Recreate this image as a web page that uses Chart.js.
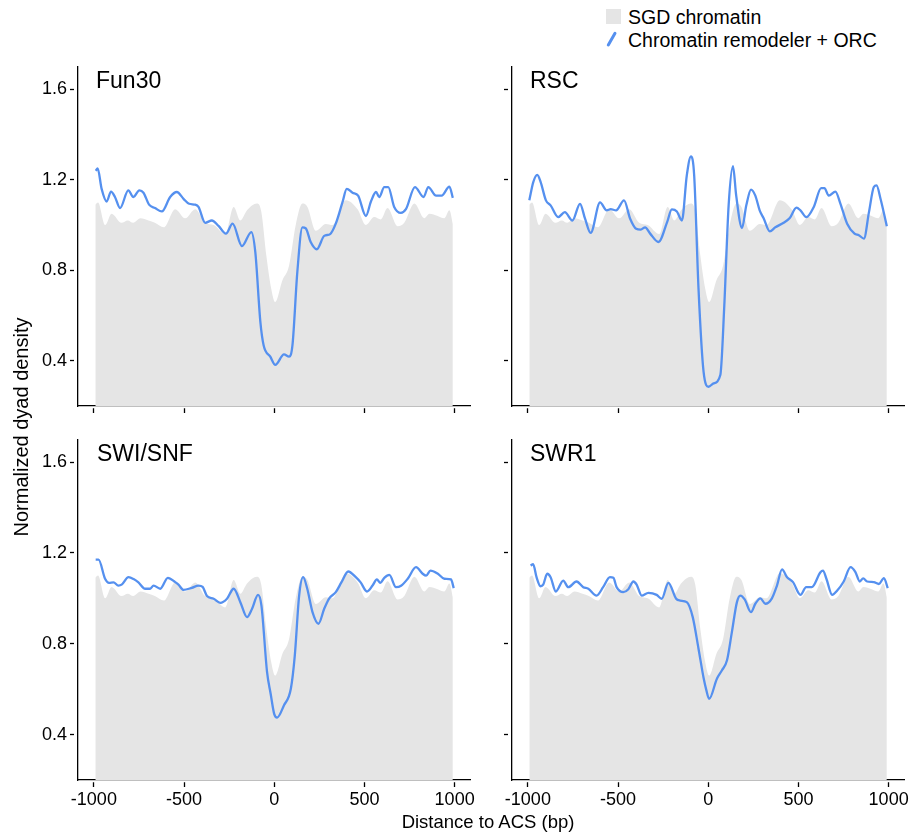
<!DOCTYPE html>
<html>
<head>
<meta charset="utf-8">
<script src="https://cdn.jsdelivr.net/npm/chart.js@4.4.1/dist/chart.umd.min.js"></script>
<style>
  body { margin: 0; width: 910px; height: 837px; background: #fff; position: relative; overflow: hidden;
         font-family: "Liberation Sans", Arial, sans-serif; color: #000; }
  .box { position: absolute; }
  .name { position: absolute; font-size: 23px; line-height: 23px; white-space: nowrap; }
  #legend { position: absolute; left: 628px; top: 6px; font-size: 19.5px; line-height: 22.7px; white-space: nowrap; }
  #sgdKey { position: absolute; left: 606px; top: 9px; width: 15px; height: 15px; background: #e5e5e5; }
  #lineKey { position: absolute; left: 600px; top: 28px; }
  #ytitle { position: absolute; left: -129.5px; top: 417px; width: 300px; height: 20px; text-align: center;
            font-size: 20px; line-height: 20px; transform: rotate(-90deg); white-space: nowrap; }
  #xtitle { position: absolute; left: 288px; top: 813px; width: 400px; text-align: center;
            font-size: 18.5px; line-height: 18.5px; white-space: nowrap; }
</style>
</head>
<body>

<div id="sgdKey"></div>
<svg id="lineKey" width="24" height="24"><line x1="8.3" y1="17" x2="15" y2="5.3" stroke="#5590ef" stroke-width="3" stroke-linecap="round"/></svg>
<div id="legend">SGD chromatin<br>Chromatin remodeler + ORC</div>

<div class="box" style="left:0;top:58px"><canvas id="c0" width="480" height="362"></canvas></div>
<div class="box" style="left:480px;top:58px"><canvas id="c1" width="430" height="362"></canvas></div>
<div class="box" style="left:0;top:430px"><canvas id="c2" width="480" height="407"></canvas></div>
<div class="box" style="left:480px;top:430px"><canvas id="c3" width="430" height="407"></canvas></div>

<div class="name" style="left:96px;top:68.7px">Fun30</div>
<div class="name" style="left:530px;top:68.7px">RSC</div>
<div class="name" style="left:97px;top:442px">SWI/SNF</div>
<div class="name" style="left:530px;top:442px">SWR1</div>

<div id="ytitle">Normalized dyad density</div>
<div id="xtitle">Distance to ACS (bp)</div>

<script>
// tick values
const xTicks = [-1000, -500, 0, 500, 1000];
const yTicks = [0.4, 0.8, 1.2, 1.6];

// SGD chromatin (same grey profile in every panel)
const sgdX = [-992, -977, -937, -902, -847, -812, -782, -742, -697, -662, -612, -549, -494, -438, -383, -336,
  -272, -225, -188, -151, -96, -72, -43, -17, 5, 45, 82, 119, 156, 184, 230, 286, 323, 397, 462, 508, 554,
  591, 628, 684, 721, 777, 832, 860, 906, 943, 971, 990];
const sgdY = [1.09, 1.10, 1.00, 1.05, 1.01, 1.02, 1.01, 1.03, 1.02, 1.01, 0.99, 1.07, 1.03, 1.07, 1.01, 1.00,
  0.96, 1.08, 1.02, 1.065, 1.095, 1.06, 0.86, 0.72, 0.66, 0.755, 0.82, 1.00, 1.095, 1.08, 0.975, 1.005, 1.00,
  1.11, 1.07, 1.00, 1.035, 1.025, 1.075, 0.995, 1.01, 1.095, 1.03, 1.05, 1.04, 1.03, 1.065, 1.005];

// Chromatin remodeler + ORC, one pair per remodeler
const fun30X = [-990, -979, -957, -929, -905, -883, -855, -809, -781, -748, -725, -694, -661, -623, -577, -540,
  -503, -472, -438, -420, -383, -346, -309, -268, -231, -179, -127, -105, -77, -59, -22, 6, 54, 82, 101, 128,
  156, 175, 202, 236, 277, 310, 341, 378, 402, 434, 465, 508, 536, 564, 582, 610, 632, 665, 702, 730, 780,
  828, 854, 897, 928, 971, 990];
const fun30Y = [1.24, 1.25, 1.16, 1.104, 1.148, 1.124, 1.075, 1.153, 1.124, 1.153, 1.143, 1.09, 1.075, 1.06,
  1.124, 1.146, 1.116, 1.094, 1.09, 1.08, 1.01, 1.02, 0.996, 0.962, 1.006, 0.907, 0.969, 0.88, 0.572, 0.469,
  0.418, 0.382, 0.428, 0.418, 0.469, 0.793, 0.99, 0.985, 0.925, 0.893, 0.952, 0.96, 1.006, 1.10, 1.16, 1.143,
  1.13, 1.04, 1.104, 1.146, 1.124, 1.168, 1.168, 1.08, 1.054, 1.07, 1.168, 1.124, 1.168, 1.13, 1.13, 1.17, 1.12];

const rscX = [-992, -970, -948, -929, -900, -874, -832, -795, -753, -711, -683, -652, -600, -563, -541, -511,
  -467, -433, -400, -374, -350, -322, -276, -228, -202, -174, -146, -119, -96, -78, -54, -26, 2, 29, 67, 89,
  113, 137, 155, 187, 211, 237, 261, 285, 307, 341, 372, 418, 452, 489, 511, 544, 585, 626, 644, 668, 705,
  733, 770, 811, 835, 863, 891, 918, 933, 955, 990];
const rscY = [1.11, 1.19, 1.222, 1.19, 1.109, 1.087, 1.035, 1.057, 1.02, 1.094, 1.028, 0.965, 1.10, 1.065,
  1.07, 1.065, 1.109, 1.028, 0.984, 0.98, 0.99, 0.962, 0.925, 1.013, 1.069, 1.06, 1.02, 1.219, 1.304, 1.219,
  0.719, 0.352, 0.285, 0.30, 0.337, 0.645, 1.087, 1.26, 1.13, 0.987, 1.087, 1.157, 1.13, 1.065, 1.03, 0.972,
  0.99, 1.01, 1.031, 1.077, 1.065, 1.035, 1.08, 1.163, 1.163, 1.13, 1.148, 1.094, 1.006, 0.962, 0.955, 0.94,
  1.057, 1.168, 1.175, 1.116, 0.995];

const swiX = [-990, -974, -938, -916, -891, -864, -846, -808, -780, -753, -716, -688, -669, -632, -590, -549,
  -531, -503, -457, -420, -397, -373, -336, -299, -262, -225, -188, -151, -123, -90, -71, -40, -20, 0, 16, 54,
  92, 114, 138, 160, 183, 212, 245, 277, 305, 341, 373, 410, 452, 479, 514, 545, 569, 588, 610, 638, 675, 703,
  740, 786, 823, 842, 866, 907, 943, 980, 995];
const swiY = [1.17, 1.17, 1.086, 1.068, 1.07, 1.056, 1.06, 1.093, 1.085, 1.07, 1.042, 1.042, 1.056, 1.042,
  1.09, 1.071, 1.06, 1.037, 1.046, 1.056, 1.05, 1.01, 0.998, 0.98, 0.998, 1.042, 0.983, 0.917, 0.954, 1.015,
  0.968, 0.676, 0.58, 0.49, 0.475, 0.529, 0.602, 0.749, 1.012, 1.093, 1.042, 0.939, 0.888, 0.954, 1.0, 1.027,
  1.071, 1.118, 1.093, 1.07, 1.03, 1.056, 1.083, 1.068, 1.09, 1.103, 1.049, 1.055, 1.086, 1.137, 1.108, 1.10,
  1.122, 1.108, 1.086, 1.083, 1.045];

const swr1X = [-985, -971, -952, -930, -915, -893, -874, -845, -804, -776, -730, -693, -665, -619, -582, -545,
  -526, -508, -471, -443, -415, -397, -369, -332, -286, -258, -221, -178, -156, -119, -86, -54, -26, -12, 5, 48,
  76, 104, 131, 159, 178, 202, 237, 261, 289, 316, 353, 381, 409, 437, 470, 511, 543, 574, 622, 636, 655, 687,
  715, 751, 789, 816, 840, 859, 881, 918, 946, 974, 995];
const swr1Y = [1.144, 1.15, 1.093, 1.053, 1.06, 1.108, 1.093, 1.03, 1.078, 1.049, 1.074, 1.049, 1.042, 1.012,
  1.05, 1.093, 1.09, 1.049, 1.027, 1.04, 1.074, 1.06, 1.012, 1.024, 1.015, 0.998, 1.068, 0.998, 0.99, 0.983,
  0.917, 0.778, 0.65, 0.60, 0.557, 0.646, 0.683, 0.727, 0.851, 0.983, 1.012, 0.995, 0.939, 0.976, 1.0, 0.976,
  1.0, 1.056, 1.127, 1.093, 1.071, 1.015, 1.049, 1.049, 1.115, 1.122, 1.086, 1.015, 1.034, 1.074, 1.137, 1.115,
  1.074, 1.088, 1.074, 1.071, 1.063, 1.089, 1.045];

const FONT = '"Liberation Sans", Arial, sans-serif';
const GREY = '#e5e5e5';
const BLUE = '#5590ef';

function pts(xs, ys) {
  return xs.map((x, i) => ({ x: x, y: ys[i] }));
}

// one panel = grey area + blue line
function makePanel(id, xs, ys, o) {
  new Chart(document.getElementById(id), {
    type: 'line',
    data: {
      datasets: [
        {
          data: pts(xs, ys),
          borderColor: BLUE,
          borderWidth: 2.3,
          fill: false,
          pointRadius: 0,
          cubicInterpolationMode: 'monotone',
          order: 0
        },
        {
          data: pts(sgdX, sgdY),
          backgroundColor: GREY,
          borderWidth: 0,
          borderColor: GREY,
          fill: 'start',
          pointRadius: 0,
          cubicInterpolationMode: 'monotone',
          order: 1
        }
      ]
    },
    options: {
      responsive: false,
      animation: false,
      events: [],
      layout: { padding: { top: o.padTop, right: o.padRight, left: 0, bottom: 0 } },
      plugins: { legend: { display: false }, tooltip: { enabled: false } },
      scales: {
        x: {
          type: 'linear',
          min: -1088,
          max: 1088,
          afterBuildTicks: s => { s.ticks = xTicks.map(v => ({ value: v })); },
          // fixed axis size, no extra label overflow padding
          afterFit: s => { s.height = o.xHeight; s.paddingLeft = 0; s.paddingRight = 0; },
          ticks: {
            display: o.xLabels,
            callback: v => String(v),
            color: '#000',
            font: { size: 18, family: FONT },
            padding: 2,
            maxRotation: 0,
            autoSkip: false
          },
          grid: {
            drawOnChartArea: false,
            tickLength: 7,
            tickColor: '#000',
            tickWidth: 1.3,
            tickBorderDash: [0, 2, 5, 50]
          },
          border: { color: '#000', width: 1.3 }
        },
        y: {
          min: 0.2,
          max: 1.7,
          afterBuildTicks: s => { s.ticks = yTicks.map(v => ({ value: v })); },
          afterFit: s => { s.width = o.yWidth; s.paddingTop = 0; s.paddingBottom = 0; },
          ticks: {
            display: o.yLabels,
            callback: v => v.toFixed(1),
            color: '#000',
            font: { size: 18, family: FONT },
            padding: 3
          },
          grid: {
            drawOnChartArea: false,
            tickLength: 8,
            tickColor: '#000',
            tickWidth: 1.3,
            tickBorderDash: [4, 50]
          },
          border: { color: '#000', width: 1.3 }
        }
      }
    }
  });
}

makePanel('c0', fun30X, fun30Y, { padTop: 8.7, padRight: 9.5, xHeight: 14, yWidth: 78, xLabels: false, yLabels: true });
makePanel('c1', rscX, rscY, { padTop: 8.7, padRight: 5.5, xHeight: 14, yWidth: 32, xLabels: false, yLabels: false });
makePanel('c2', swiX, swiY, { padTop: 9.3, padRight: 9.5, xHeight: 57, yWidth: 78, xLabels: true, yLabels: true });
makePanel('c3', swr1X, swr1Y, { padTop: 9.3, padRight: 5.5, xHeight: 57, yWidth: 32, xLabels: true, yLabels: false });
</script>
</body>
</html>
